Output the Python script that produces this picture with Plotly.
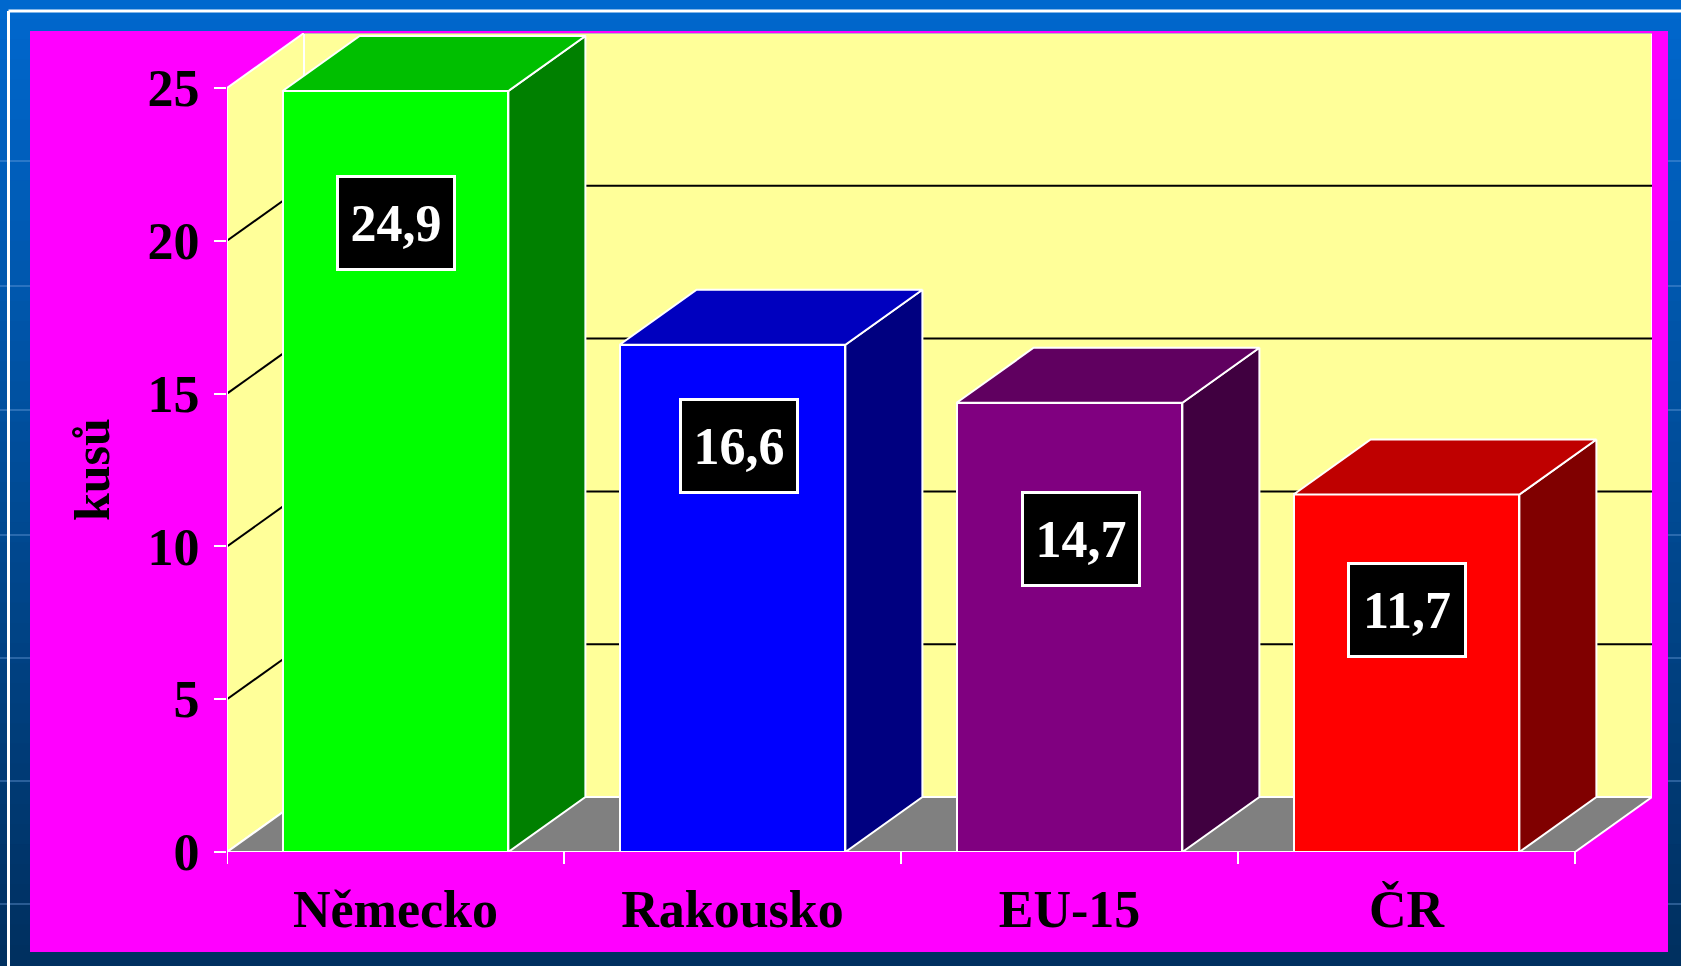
import plotly.graph_objects as go

# ---- data ----
categories = ["Německo", "Rakousko", "EU-15", "ČR"]
values = [24.9, 16.6, 14.7, 11.7]
y_ticks = [0, 5, 10, 15, 20, 25]
y_title = "kusů"

# ---- styles ----
front_colors = ["#00FF00", "#0000FF", "#800080", "#FF0000"]
top_colors = ["#00BF00", "#0000BF", "#600060", "#BF0000"]
side_colors = ["#008000", "#000080", "#400040", "#800000"]
label_drop = [4.33, 3.31, 4.46, 3.78]     # label centre below bar top (axis units)
label_dx = [0.0, 0.02, 0.035, 0.0]

W, H = 1681, 966
L, R, T, B = 227, 29, 33, 114
DX = 0.2285    # depth offset in x units
DY = 1.80      # depth offset in y units
BW = 0.67      # bar width
FONT = "Liberation Serif, Times New Roman, serif"
WALL = "#FFFF99"
FLOOR = "#808080"

n = len(categories)
xmin, xmax = -0.5, n - 0.5
ymax = max(y_ticks)
pw, ph = W - L - R, H - T - B


def px2paper_x(p):
    return (p - L) / pw


def px2paper_y(p):
    return (H - B - p) / ph


fig = go.Figure()
shapes = []

# background gradient (blue)
bands = 48
for i in range(bands):
    t = i / (bands - 1)
    r = 0
    g = int(104 - t * 56)
    b = int(206 - t * 110)
    shapes.append(dict(type="rect", xref="paper", yref="paper", layer="below",
                       x0=px2paper_x(-5), x1=px2paper_x(W + 5),
                       y0=px2paper_y(i * H / bands - 1), y1=px2paper_y((i + 1) * H / bands + 1),
                       fillcolor=f"rgb({r},{g},{b})", line_width=0))
# faint background grid lines
for yy in [161, 286, 410, 535, 658, 781, 904]:
    shapes.append(dict(type="line", xref="paper", yref="paper", layer="below",
                       x0=px2paper_x(0), x1=px2paper_x(W), y0=px2paper_y(yy), y1=px2paper_y(yy),
                       line=dict(color="rgba(120,170,230,0.35)", width=2)))
# white frame lines
shapes.append(dict(type="line", xref="paper", yref="paper", layer="below",
                   x0=px2paper_x(8.5), x1=px2paper_x(W + 5), y0=px2paper_y(11), y1=px2paper_y(11),
                   line=dict(color="white", width=3)))
shapes.append(dict(type="line", xref="paper", yref="paper", layer="below",
                   x0=px2paper_x(8.5), x1=px2paper_x(8.5), y0=px2paper_y(11), y1=px2paper_y(H + 5),
                   line=dict(color="white", width=3)))
# magenta chart area
shapes.append(dict(type="rect", xref="paper", yref="paper", layer="below",
                   x0=px2paper_x(30), x1=px2paper_x(1668), y0=px2paper_y(31), y1=px2paper_y(952),
                   fillcolor="#FF00FF", line_width=0))

# back wall
shapes.append(dict(type="rect", xref="x", yref="y", layer="below",
                   x0=xmin + DX, x1=xmax + DX, y0=DY, y1=ymax + DY,
                   fillcolor=WALL, line=dict(color="white", width=2)))
# left wall
shapes.append(dict(type="path", xref="x", yref="y", layer="below",
                   path=f"M{xmin},0 L{xmin},{ymax} L{xmin+DX},{ymax+DY} L{xmin+DX},{DY} Z",
                   fillcolor=WALL, line=dict(color="white", width=2)))
# floor
shapes.append(dict(type="path", xref="x", yref="y", layer="below",
                   path=f"M{xmin},0 L{xmax},0 L{xmax+DX},{DY} L{xmin+DX},{DY} Z",
                   fillcolor=FLOOR, line=dict(color="white", width=2)))
# gridlines
for v in y_ticks[1:-1]:
    shapes.append(dict(type="line", xref="x", yref="y", layer="below",
                       x0=xmin + DX, x1=xmax + DX, y0=v + DY, y1=v + DY,
                       line=dict(color="black", width=2)))
    shapes.append(dict(type="line", xref="x", yref="y", layer="below",
                       x0=xmin, x1=xmin + DX, y0=v, y1=v + DY,
                       line=dict(color="black", width=2)))
# top edge of back wall
shapes.append(dict(type="line", xref="x", yref="y", layer="below",
                   x0=xmin + DX, x1=xmax + DX, y0=ymax + DY, y1=ymax + DY,
                   line=dict(color="#BBBBBB", width=2)))

# axis lines and boundary ticks (front)
shapes.append(dict(type="line", xref="x", yref="y", layer="above",
                   x0=xmin, x1=xmax, y0=0, y1=0, line=dict(color="white", width=2)))
shapes.append(dict(type="line", xref="x", yref="y", layer="above",
                   x0=xmin, x1=xmin, y0=0, y1=ymax, line=dict(color="white", width=2)))
for k in range(n + 1):
    shapes.append(dict(type="line", xref="x", yref="paper", layer="above",
                       x0=xmin + k, x1=xmin + k, y0=0, y1=-12 / ph,
                       line=dict(color="white", width=2)))

# side and top faces of bars
for i, v in enumerate(values):
    xr = i + BW / 2
    xl = i - BW / 2
    fig.add_trace(go.Scatter(
        x=[xr, xr + DX, xr + DX, xr, xr], y=[0, DY, v + DY, v, 0],
        mode="lines", fill="toself", fillcolor=side_colors[i],
        line=dict(color="white", width=2), hoverinfo="skip", showlegend=False))
    fig.add_trace(go.Scatter(
        x=[xl, xr, xr + DX, xl + DX, xl], y=[v, v, v + DY, v + DY, v],
        mode="lines", fill="toself", fillcolor=top_colors[i],
        line=dict(color="white", width=2), hoverinfo="skip", showlegend=False))

# front faces
fig.add_trace(go.Bar(
    x=list(range(n)), y=values, width=BW,
    marker=dict(color=front_colors, line=dict(color="white", width=2)),
    hoverinfo="skip", showlegend=False))

annotations = []
for i, v in enumerate(values):
    annotations.append(dict(
        x=i + label_dx[i], y=v - label_drop[i], xref="x", yref="y",
        text=f"{v:.1f}".replace(".", ","), showarrow=False,
        font=dict(family=FONT, size=52, color="white", weight="bold"),
        bgcolor="black", bordercolor="white", borderwidth=3, borderpad=1,
        width=112, height=88, xanchor="center", yanchor="middle"))
annotations.append(dict(
    x=px2paper_x(92), y=ymax / 2, xref="paper", yref="y",
    text=y_title, textangle=-90, showarrow=False,
    font=dict(family=FONT, size=50, color="black", weight="bold"),
    xanchor="center", yanchor="middle"))

fig.update_layout(
    width=W, height=H, autosize=False,
    margin=dict(l=L, r=R, t=T, b=B, pad=0),
    paper_bgcolor="#0060C0", plot_bgcolor="rgba(0,0,0,0)",
    shapes=shapes, annotations=annotations, bargap=0,
    xaxis=dict(range=[xmin, xmax + DX], showgrid=False, zeroline=False, showline=False,
               tickvals=list(range(n)), ticktext=categories, ticks="",
               ticklabelstandoff=22,
               tickfont=dict(family=FONT, size=52, color="black", weight="bold"),
               fixedrange=True),
    yaxis=dict(range=[0, ymax + DY], showgrid=False, zeroline=False, showline=False,
               tickvals=y_ticks, ticktext=[str(t) for t in y_ticks],
               ticks="outside", ticklen=12, tickwidth=2, tickcolor="white",
               ticklabelstandoff=4,
               tickfont=dict(family=FONT, size=52, color="black", weight="bold"),
               fixedrange=True),
)

fig.write_html("out.html", config={"displayModeBar": False},
               post_script="document.body.style.margin='0';document.body.style.overflow='hidden';")
